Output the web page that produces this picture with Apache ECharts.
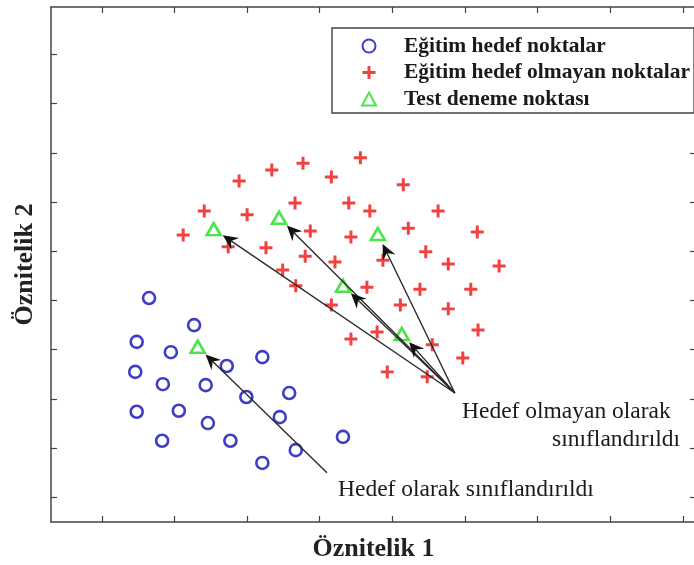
<!DOCTYPE html>
<html>
<head>
<meta charset="utf-8">
<script src="https://cdn.jsdelivr.net/npm/echarts@6/dist/echarts.min.js"></script>
<style>
  html, body { margin: 0; padding: 0; background: #fff; }
  #chart { width: 694px; height: 565px; }
</style>
</head>
<body>
<div id="chart"></div>
<script>
// Series names shown in the legend
const seriesNames = ['Eğitim hedef noktalar', 'Eğitim hedef olmayan noktalar', 'Test deneme noktası'];

// Training points of the target class
const targetX = [1.35, 1.97, 1.18, 1.65, 2.91, 2.42, 1.16, 1.54, 2.13, 3.28, 2.69, 1.18, 1.76, 3.15, 2.16, 1.53, 2.47, 3.37, 2.91, 4.02];
const targetY = [4.55, 4.00, 3.66, 3.45, 3.35, 3.17, 3.05, 2.80, 2.78, 2.62, 2.54, 2.24, 2.26, 2.13, 2.01, 1.65, 1.65, 1.46, 1.20, 1.73];

// Training points of the non-target class
const nonTargetX = [3.47, 3.04, 2.59, 3.86, 4.26, 4.85, 3.36, 4.10, 2.11, 2.70, 4.39, 5.33, 1.82, 3.57, 4.13, 4.92, 5.87, 2.44, 2.96, 3.50,
                    3.91, 4.57, 5.16, 5.47, 6.17, 3.19, 3.37, 4.35, 5.08, 5.78, 3.86, 4.81, 5.47, 4.49, 4.13, 5.25, 5.88, 5.67, 4.63, 5.18];
const nonTargetY = [7.29, 7.15, 6.93, 7.01, 7.40, 6.85, 6.48, 6.48, 6.32, 6.24, 6.32, 6.32, 5.83, 5.91, 5.79, 5.97, 5.89, 5.59, 5.57, 5.40,
                    5.28, 5.32, 5.49, 5.24, 5.20, 5.12, 4.80, 4.77, 4.73, 4.73, 4.41, 4.41, 4.33, 3.86, 3.72, 3.60, 3.90, 3.33, 3.05, 2.95];

// Test points and the class each one was assigned (0 = target, 1 = non-target)
const testX = [2.24, 3.14, 4.50, 4.02, 4.83, 2.02];
const testY = [5.95, 6.18, 5.85, 4.80, 3.82, 3.56];
const testClass = [1, 1, 1, 1, 1, 0];

// Where the annotation arrows start, one per class (0 = target, 1 = non-target)
const arrowTailX = [3.80, 5.56];
const arrowTailY = [1.00, 2.62];
const annotationLines = ['Hedef olarak sınıflandırıldı', 'Hedef olmayan olarak', 'sınıflandırıldı'];

// Axis extent and tick positions (no tick labels are drawn)
const xMin = 0, xMax = 8.881;
const yMin = 0, yMax = 10.463;
const xTicks = [0.7, 1.7, 2.7, 3.7, 4.7, 5.7, 6.7, 7.7, 8.7];
const yTicks = [0.5, 1.5, 2.5, 3.5, 4.5, 5.5, 6.5, 7.5, 8.5, 9.5];

const serif = '"Liberation Serif", "Times New Roman", serif';
const zip = (xs, ys) => xs.map((x, i) => [x, ys[i]]);

// Arrow geometry (pixels)
const ARROW_GAP = 11, HEAD_LEN = 15, HEAD_HALF_W = 7, HEAD_NOTCH = 5;

function renderArrow(params, api) {
  const p1 = api.coord([api.value(0), api.value(1)]);
  const p2 = api.coord([api.value(2), api.value(3)]);
  const dx = p2[0] - p1[0], dy = p2[1] - p1[1];
  const len = Math.hypot(dx, dy);
  const ux = dx / len, uy = dy / len;
  const nx = -uy, ny = ux;
  const tip = [p2[0] - ux * ARROW_GAP, p2[1] - uy * ARROW_GAP];
  const back = [tip[0] - ux * HEAD_LEN, tip[1] - uy * HEAD_LEN];
  const notch = [tip[0] - ux * (HEAD_LEN - HEAD_NOTCH), tip[1] - uy * (HEAD_LEN - HEAD_NOTCH)];
  const left = [back[0] + nx * HEAD_HALF_W, back[1] + ny * HEAD_HALF_W];
  const right = [back[0] - nx * HEAD_HALF_W, back[1] - ny * HEAD_HALF_W];
  return {
    type: 'group',
    children: [
      { type: 'line', shape: { x1: p1[0], y1: p1[1], x2: notch[0], y2: notch[1] },
        style: { stroke: '#2a2a2a', lineWidth: 1.4 } },
      { type: 'polygon', shape: { points: [tip, left, notch, right] },
        style: { fill: '#111' } }
    ]
  };
}

const arrowData = testX.map((x, i) => [arrowTailX[testClass[i]], arrowTailY[testClass[i]], x, testY[i]]);

const plusPath = 'path://M3.85,0H6.15V3.85H10V6.15H6.15V10H3.85V6.15H0V3.85H3.85Z';

const tickStyle = (values) => ({ show: true, inside: true, length: 6, customValues: values, lineStyle: { color: '#444', width: 1.2 } });
const axisCommon = {
  type: 'value',
  axisLine: { show: true, onZero: false, lineStyle: { color: '#444', width: 1.5 } },
  axisLabel: { show: false },
  splitLine: { show: false }
};
const titleStyle = { fontFamily: serif, fontWeight: 'bold', fontSize: 26, color: '#222' };

const chart = echarts.init(document.getElementById('chart'), null, { renderer: 'canvas' });
chart.setOption({
  backgroundColor: '#fff',
  animation: false,
  grid: { left: 51, top: 7, right: -2, bottom: 43, containLabel: false, outerBoundsMode: 'none' },
  xAxis: [
    Object.assign({}, axisCommon, {
      position: 'bottom', min: xMin, max: xMax, axisTick: tickStyle(xTicks),
      name: 'Öznitelik 1', nameLocation: 'middle', nameGap: 14, nameTextStyle: titleStyle
    }),
    Object.assign({}, axisCommon, { position: 'top', min: xMin, max: xMax, axisTick: tickStyle(xTicks) })
  ],
  yAxis: [
    Object.assign({}, axisCommon, {
      position: 'left', min: yMin, max: yMax, axisTick: tickStyle(yTicks),
      name: 'Öznitelik 2', nameLocation: 'middle', nameGap: 13, nameTextStyle: titleStyle
    }),
    Object.assign({}, axisCommon, { position: 'right', min: yMin, max: yMax, axisTick: tickStyle(yTicks) })
  ],
  legend: {
    data: seriesNames,
    orient: 'vertical',
    left: 332, top: 28,
    backgroundColor: '#fff',
    borderColor: '#444', borderWidth: 1.4, borderRadius: 0,
    padding: [7, 4, 3, 29],
    itemWidth: 14, itemHeight: 13, itemGap: 4.5,
    selectedMode: false,
    textStyle: { fontFamily: serif, fontWeight: 'bold', fontSize: 21.5, lineHeight: 20, color: '#1a1a1a', padding: [0, 0, 0, 23] }
  },
  graphic: [
    { type: 'text', left: 338, top: 478,
      style: { text: annotationLines[0], font: '23.5px ' + serif, fill: '#1a1a1a' } },
    { type: 'text', left: 462, top: 400,
      style: { text: annotationLines[1], font: '23.5px ' + serif, fill: '#1a1a1a' } },
    { type: 'text', right: 14, top: 428,
      style: { text: annotationLines[2], font: '23.5px ' + serif, fill: '#1a1a1a' } }
  ],
  series: [
    {
      name: seriesNames[0], type: 'scatter', data: zip(targetX, targetY),
      symbol: 'circle', symbolSize: 12,
      itemStyle: { color: 'rgba(0,0,0,0)', borderColor: '#0c0cb8', borderWidth: 2.6 }
    },
    {
      name: seriesNames[1], type: 'scatter', data: zip(nonTargetX, nonTargetY),
      symbol: plusPath, symbolSize: 13,
      itemStyle: { color: '#ee1212' }
    },
    {
      name: seriesNames[2], type: 'scatter', data: zip(testX, testY), z: 4,
      symbol: 'triangle', symbolSize: [14, 12],
      itemStyle: { color: 'rgba(0,0,0,0)', borderColor: '#1fdc1f', borderWidth: 2.6 }
    },
    {
      type: 'custom', renderItem: renderArrow, data: arrowData, z: 5,
      encode: { x: [0, 2], y: [1, 3] }, silent: true
    }
  ]
});
</script>
</body>
</html>
